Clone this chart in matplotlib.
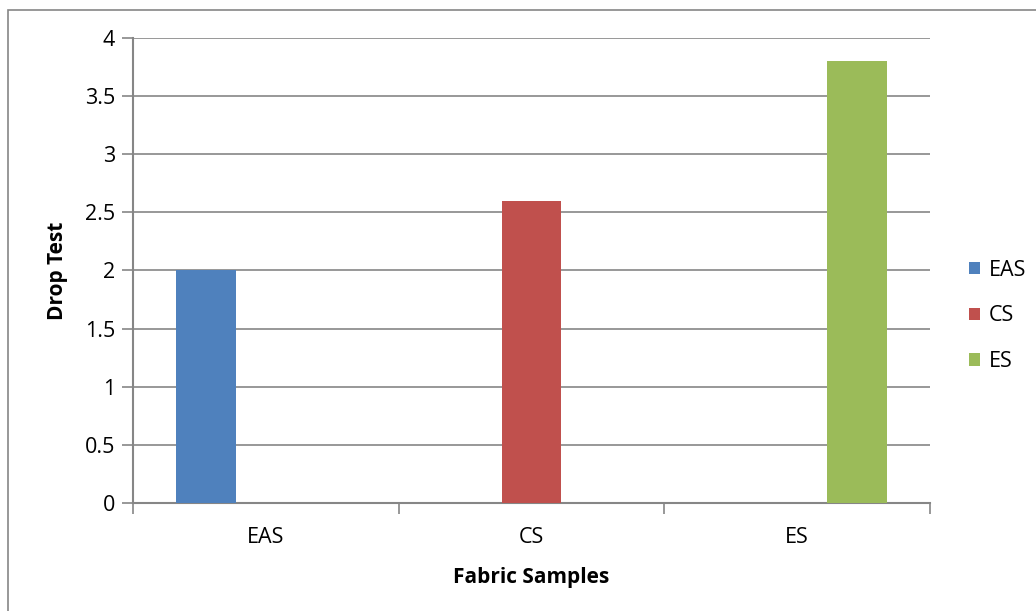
import matplotlib.pyplot as plt
from matplotlib.patches import Rectangle

# Data
samples = ['EAS', 'CS', 'ES']
drop_test = [2.0, 2.6, 3.8]
colors = ['#4F81BD', '#C0504D', '#9BBB59']
y_ticks = [0, 0.5, 1, 1.5, 2, 2.5, 3, 3.5, 4]
y_labels = ['0', '0.5', '1', '1.5', '2', '2.5', '3', '3.5', '4']

plt.rcParams['font.family'] = ['Open Sans', 'DejaVu Sans']
grey = '#868686'

fig = plt.figure(figsize=(10.36, 6.11), dpi=100)
ax = fig.add_axes([0.1284, 0.1768, 0.7693, 0.761])

# clustered bars: one series per sample, only its own category non-zero
width = 0.225
for i, (name, val, col) in enumerate(zip(samples, drop_test, colors)):
    vals = [val if j == i else 0 for j in range(len(samples))]
    xs = [j + (i - 1) * width for j in range(len(samples))]
    ax.bar(xs, vals, width=width, color=col, label=name, zorder=3)

ax.set_xlim(-0.5, 2.5)
ax.set_ylim(0, 4)
ax.set_yticks(y_ticks)
ax.set_yticklabels(y_labels)
ax.yaxis.grid(True, color=grey, lw=1.2, zorder=0)

# category boundary ticks, labels in between
ax.set_xticks([-0.5, 0.5, 1.5, 2.5])
ax.set_xticklabels([])
ax.set_xticks([0, 1, 2], minor=True)
ax.set_xticklabels(samples, minor=True)
ax.tick_params(axis='x', which='minor', length=0, pad=17, labelsize=15.5)
ax.tick_params(axis='x', which='major', length=8, width=1.2, color=grey, direction='out')
ax.tick_params(axis='y', length=8, width=1.2, color=grey, labelsize=15.5, pad=5)

for s in ['top', 'right']:
    ax.spines[s].set_visible(False)
for s in ['left', 'bottom']:
    ax.spines[s].set_color(grey)
    ax.spines[s].set_linewidth(1.5)

ax.set_ylabel('Drop Test', fontsize=15, fontweight='bold', labelpad=12)
ax.set_xlabel('Fabric Samples', fontsize=15, fontweight='bold', labelpad=14)

fig.legend(loc='center left', bbox_to_anchor=(0.917, 0.483), frameon=False,
           fontsize=15.5, handlelength=0.5, handleheight=0.5,
           handletextpad=0.4, labelspacing=1.15)

# chart frame, open on the right and bottom
fig.patches.append(Rectangle((8 / 1036, -0.02), 1.05, 1 - 10 / 611 + 0.02,
                             transform=fig.transFigure, fill=False,
                             edgecolor=grey, lw=1.2))

fig.savefig('out.png', dpi=100)
